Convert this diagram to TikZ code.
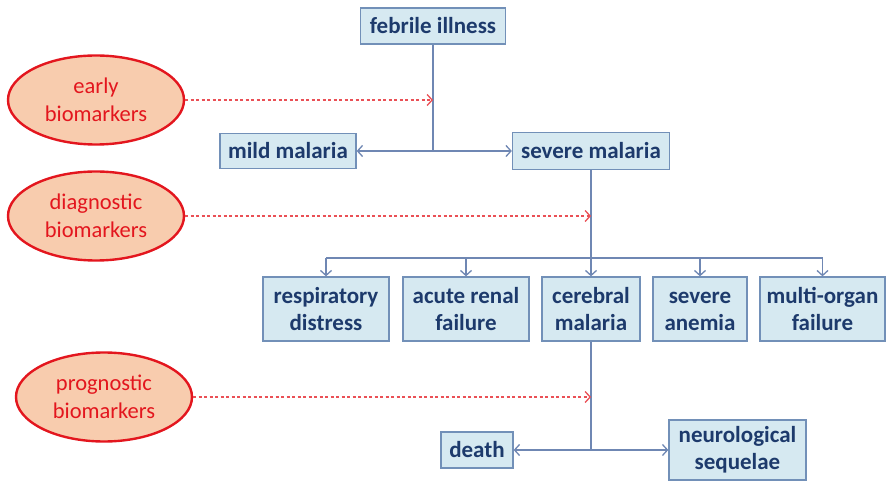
\documentclass[tikz,border=0pt]{standalone}
\usepackage{fontspec}
\setmainfont{Carlito}
\usetikzlibrary{positioning,arrows.meta,shapes.geometric}
\definecolor{boxfill}{HTML}{D6E9F1}
\definecolor{boxline}{HTML}{7290B8}
\definecolor{boxtext}{HTML}{1D3A6C}
\definecolor{flowline}{HTML}{6F87B3}
\definecolor{markfill}{HTML}{F8CCAE}
\definecolor{markline}{HTML}{E3161E}
\tikzset{
    stage/.style={
        rectangle,
        draw=boxline,
        fill=boxfill,
        line width=1.3pt,
        align=center,
        text=boxtext,
        inner sep=0pt,
        font=\fontsize{23}{27}\selectfont\bfseries
    },
    marker/.style={
        ellipse,
        draw=markline,
        fill=markfill,
        line width=2.4pt,
        align=center,
        text=markline,
        inner sep=0pt,
        minimum width=176pt,
        minimum height=89pt,
        font=\fontsize{22.5}{28}\selectfont
    },
    flow/.style={
        -{Straight Barb[length=5pt,width=11pt]},
        draw=flowline,
        line width=1.3pt
    },
    hint/.style={
        -{Straight Barb[length=5pt,width=11pt]},
        draw=markline!75,
        dash pattern=on 3pt off 2.5pt,
        line width=1.3pt
    }
}

\begin{document}
\begin{tikzpicture}[x=1pt, y=-1pt]
    \useasboundingbox (0,0) rectangle (887,481);
    % main course
    \node[stage, minimum width=145pt, minimum height=36pt] (febrile) at (433,26) {febrile illness};
    \node[stage, minimum width=136pt, minimum height=35pt] (mild) at (288,151) {mild malaria};
    \node[stage, minimum width=157pt, minimum height=37pt] (severe) at (591,151) {severe malaria};
    % complications
    \node[stage, minimum width=126pt, minimum height=64pt] (resp) at (326,309) {respiratory\\distress};
    \node[stage, minimum width=126pt, minimum height=64pt] (renal) at (466,309) {acute renal\\failure};
    \node[stage, minimum width=98pt, minimum height=64pt] (cerebral) at (591,309) {cerebral\\malaria};
    \node[stage, minimum width=94pt, minimum height=64pt] (anemia) at (700,309) {\vphantom{l}severe\\anemia};
    \node[stage, minimum width=125pt, minimum height=64pt] (organ) at (822.5,309) {multi-organ\\failure};
    % outcome
    \node[stage, minimum width=72pt, minimum height=36pt] (death) at (477,450) {death};
    \node[stage, minimum width=137pt, minimum height=60pt] (neuro) at (737.5,450) {neurological\\sequelae};
    % biomarkers
    \node[marker] (early) at (96,100) {early\\biomarkers};
    \node[marker] (diag) at (96,216) {diagnostic\\biomarkers};
    \node[marker] (prog) at (104,397) {prognostic\\biomarkers};

    \coordinate (split1) at (febrile.south |- mild.east);
    \draw[flow, -] (febrile.south) -- (split1);
    \draw[flow] (split1) -- (mild);
    \draw[flow] (split1) -- (severe);

    \coordinate (split2) at (591,258);
    \draw[flow, -] (severe.south) -- (split2);
    \draw[flow, -] (resp.north |- split2) -- (organ.north |- split2);
    \foreach \n in {resp, renal, cerebral, anemia, organ}
        \draw[flow] (\n.north |- split2) -- (\n.north);

    \coordinate (split3) at (cerebral.south |- death.east);
    \draw[flow, -] (cerebral.south) -- (split3);
    \draw[flow] (split3) -- (death);
    \draw[flow] (split3) -- (neuro);

    \draw[hint] (early.east) -- (febrile.south |- early.east);
    \draw[hint] (diag.east) -- (severe.south |- diag.east);
    \draw[hint] (prog.east) -- (cerebral.south |- prog.east);
\end{tikzpicture}
\end{document}
